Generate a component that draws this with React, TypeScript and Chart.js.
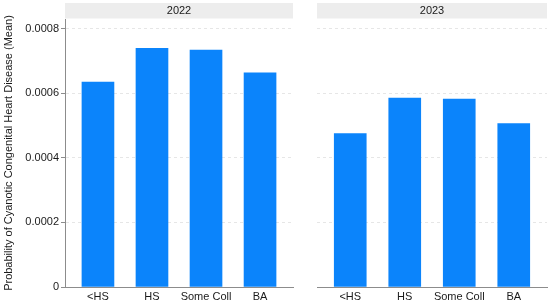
import React, { useEffect, useRef } from "react";
import { Chart, registerables } from "chart.js";

Chart.register(...registerables);

const categories = ["<HS", "HS", "Some Coll", "BA"];
const panels = ["2022", "2023"];
const values2022 = [0.000635, 0.000739, 0.000734, 0.000663];
const values2023 = [0.000475, 0.000585, 0.000582, 0.000506];
const yTicks = [0, 0.0002, 0.0004, 0.0006, 0.0008];
const yTitle = "Probability of Cyanotic Congenital Heart Disease (Mean)";

const FONT = "'Liberation Sans', Arial, Helvetica, sans-serif";
const BAR = "#0b84fb";

const stripPlugin = {
  id: "strip",
  beforeDraw(chart: any, _args: any, opts: any) {
    const { ctx, chartArea } = chart;
    ctx.save();
    ctx.fillStyle = "#ededed";
    ctx.fillRect(chartArea.left, 3, chartArea.right - chartArea.left, 15.5);
    ctx.fillStyle = "#1a1a1a";
    ctx.font = `11px ${FONT}`;
    ctx.textAlign = "center";
    ctx.textBaseline = "middle";
    ctx.fillText(opts.label, (chartArea.left + chartArea.right) / 2, 11);
    ctx.restore();
  },
};

function makeConfig(values: number[], label: string, showY: boolean, axisWidth: number, padLeft: number, padRight: number): any {
  return {
    type: "bar",
    data: {
      datasets: [
        {
          data: values.map((v, i) => ({ x: i, y: v })),
          backgroundColor: BAR,
          borderWidth: 0,
          barThickness: 32,
        },
      ],
    },
    plugins: [stripPlugin],
    options: {
      animation: false,
      responsive: false,
      maintainAspectRatio: false,
      layout: { padding: { top: 19, left: padLeft, right: padRight, bottom: 0 } },
      plugins: {
        legend: { display: false },
        tooltip: { enabled: false },
        strip: { label },
      },
      scales: {
        x: {
          type: "linear",
          min: -0.61,
          max: 3.61,
          offset: false,
          grid: { display: false, drawTicks: false, offset: false },
          border: { display: true, color: "#8c8c8c", width: 1 },
          afterBuildTicks: (s: any) => {
            s.ticks = categories.map((_, i) => ({ value: i }));
          },
          afterFit: (s: any) => {
            s.height = 18;
          },
          ticks: {
            callback: (v: any) => categories[v] ?? "",
            color: "#1a1a1a",
            font: { family: FONT, size: 11 },
            padding: 3,
            maxRotation: 0,
            autoSkip: false,
          },
        },
        y: {
          type: "linear",
          min: 0,
          max: 0.00083,
          afterBuildTicks: (s: any) => {
            s.ticks = yTicks.map((v) => ({ value: v }));
          },
          afterFit: (s: any) => {
            s.width = axisWidth;
          },
          grid: {
            display: true,
            drawTicks: showY,
            tickLength: 4,
            tickColor: "#8c8c8c",
            color: (c: any) => (c.tick && c.tick.value === 0 ? "rgba(0,0,0,0)" : "#e6e6e6"),
            lineWidth: 1,
          },
          border: { display: showY, color: "#8c8c8c", width: 1, dash: [3, 3] },
          ticks: {
            display: showY,
            color: "#1a1a1a",
            font: { family: FONT, size: 11 },
            padding: 2,
            callback: (v: any) => (v === 0 ? "0" : Number(v).toFixed(4)),
          },
          title: {
            display: showY,
            text: yTitle,
            color: "#1a1a1a",
            font: { family: FONT, size: 11 },
            padding: 0,
          },
        },
      },
    },
  };
}

function Panel({ values, label, showY, left, width, axisWidth, padLeft, padRight }: any) {
  const ref = useRef<HTMLCanvasElement>(null);
  useEffect(() => {
    if (!ref.current) return;
    const chart = new Chart(ref.current, makeConfig(values, label, showY, axisWidth, padLeft, padRight));
    return () => chart.destroy();
  }, []);
  return (
    <canvas
      ref={ref}
      width={width}
      height={305}
      style={{ position: "absolute", left, top: 0, width, height: 305 }}
    />
  );
}

export default function App() {
  return (
    <div style={{ position: "absolute", left: 0, top: 0, width: 550, height: 305, background: "#fff" }}>
      <Panel values={values2022} label={panels[0]} showY={true} left={0} width={297} axisWidth={63} padLeft={2} padRight={4} />
      <Panel values={values2023} label={panels[1]} showY={false} left={297} width={253} axisWidth={20} padLeft={0} padRight={3} />
    </div>
  );
}
